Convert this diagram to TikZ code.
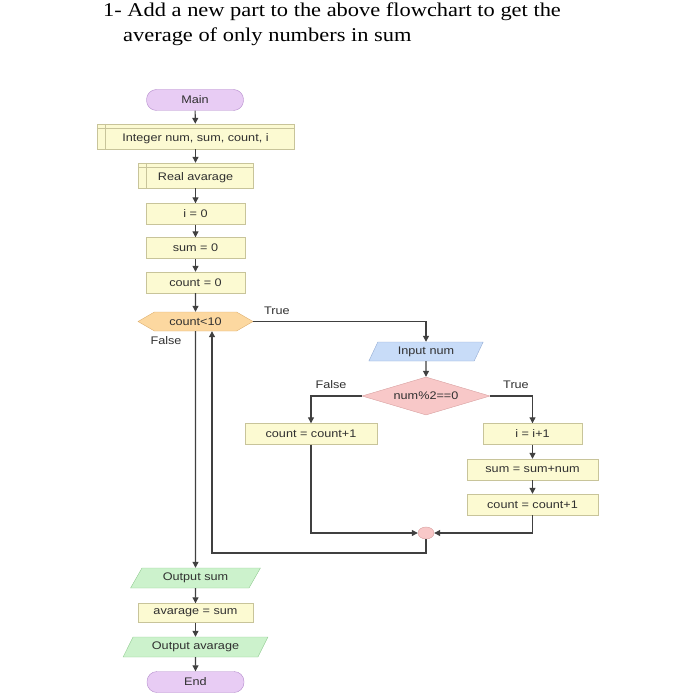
\documentclass[tikz,border=0pt]{standalone}
\usepackage{fontspec}
\setmainfont[FakeStretch=1.15]{Liberation Serif}
\newfontfamily\fgfont[FakeStretch=1.15]{Liberation Sans}
\usetikzlibrary{shapes.geometric,shapes.misc,shapes.symbols,arrows.meta}
\definecolor{boxfill}{HTML}{FCFAD2}
\definecolor{boxline}{HTML}{C8C49A}
\definecolor{termfill}{HTML}{E8CCF4}
\definecolor{termline}{HTML}{B48CCC}
\definecolor{condfill}{HTML}{FCD8A0}
\definecolor{condline}{HTML}{DEB070}
\definecolor{infill}{HTML}{C8DCF8}
\definecolor{inline}{HTML}{94ACD4}
\definecolor{decfill}{HTML}{F8C8C8}
\definecolor{decline}{HTML}{D8A0A0}
\definecolor{outfill}{HTML}{CCF2CC}
\definecolor{outline}{HTML}{94CC94}
\definecolor{wire}{HTML}{404040}
\definecolor{txt}{HTML}{303030}
\tikzset{
  fg/.style={font=\fgfont\fontsize{11}{13}\selectfont, text=txt},
  terminal/.style={fg, draw=termline, fill=termfill, rounded corners=10pt, minimum width=97pt, minimum height=21pt, inner sep=0pt},
  procbox/.style={fg, draw=boxline, fill=boxfill, minimum height=21pt, inner sep=0pt},
  declbox/.style={procbox, minimum height=25pt, text height=13pt, text depth=2.5pt},
  declline/.style={draw=boxline},
  condhex/.style={fg, shape=signal, signal to=west and east, signal pointer angle=60, draw=condline, fill=condfill, minimum width=115pt, minimum height=19pt, inner sep=0pt},
  inpar/.style={fg, trapezium, trapezium left angle=62, trapezium right angle=118, trapezium stretches=true, draw=inline, fill=infill, minimum width=115pt, minimum height=19pt, inner sep=0pt},
  outpar/.style={fg, trapezium, trapezium left angle=55, trapezium right angle=125, trapezium stretches=true, draw=outline, fill=outfill, minimum height=20pt, inner sep=0pt},
  decision/.style={fg, diamond, aspect=3.4, draw=decline, fill=decfill, minimum width=128pt, minimum height=38pt, inner sep=0pt},
  junction/.style={ellipse, draw=decline, fill=decfill, minimum width=16pt, minimum height=12pt, inner sep=0pt},
  lbl/.style={fg},
  arr/.style={draw=wire, line width=1.1pt, -{Triangle[length=6pt,width=6pt]}},
  wireline/.style={draw=wire, line width=1.1pt},
}
\begin{document}
\begin{tikzpicture}[x=1pt,y=-1pt]
\useasboundingbox (0,0) rectangle (696,700);
% title
\node[anchor=base west, inner sep=0pt, font=\fontsize{19.5}{22}\selectfont] (t1) at (103,17) {1- Add a new part to the above flowchart to get the};
\node[anchor=base west, inner sep=0pt, font=\fontsize{19.5}{22}\selectfont] (t2) at (123,42) {average of only numbers in sum};
% main column
\node[terminal] (main) at (195,100) {Main};
\node[declbox, minimum width=197pt] (decl1) at (195.5,136.5) {Integer num, sum, count, i};
\node[declbox, minimum width=115pt] (decl2) at (195.5,175.5) {Real avarage};
\node[procbox, minimum width=99pt] (i0) at (195.5,214) {i = 0};
\node[procbox, minimum width=99pt] (s0) at (195.5,248) {sum = 0};
\node[procbox, minimum width=99pt] (c0) at (195.5,282.5) {count = 0};
\node[condhex] (cond) at (195.5,321.5) {count<10};
\node[lbl] (ltrue) at (277,311) {True};
\node[lbl] (lfalse) at (166,340.5) {False};
% loop body
\node[inpar] (inp) at (426,351.5) {Input num};
\node[decision] (dec) at (426,396) {num\%2==0};
\node[lbl] (dfalse) at (331,385) {False};
\node[lbl] (dtrue) at (516,385) {True};
\node[procbox, minimum width=132pt] (cL) at (311,434) {count = count+1};
\node[procbox, minimum width=99pt] (iinc) at (532.5,434) {i = i+1};
\node[procbox, minimum width=131pt] (sadd) at (532.5,469.5) {sum = sum+num};
\node[procbox, minimum width=131pt] (cR) at (532.5,504.5) {count = count+1};
\node[junction] (join) at (426,533) {};
% output column
\node[outpar, minimum width=130pt] (osum) at (195.5,578) {Output sum};
\node[procbox, minimum width=115pt, minimum height=19pt] (avg) at (195.5,613) {avarage = sum};
\node[outpar, minimum width=145pt] (oavg) at (195.5,647) {Output avarage};
\node[terminal] (endn) at (195.5,682) {End};
% declaration inner lines
\draw[declline] ([xshift=8pt]decl1.north west) -- ([xshift=8pt]decl1.south west);
\draw[declline] ([yshift=-4pt]decl1.north west) -- ([yshift=-4pt]decl1.north east);
\draw[declline] ([xshift=8pt]decl2.north west) -- ([xshift=8pt]decl2.south west);
\draw[declline] ([yshift=-4pt]decl2.north west) -- ([yshift=-4pt]decl2.north east);
% connectors main column
\draw[arr] (main) -- (decl1);
\draw[arr] (decl1) -- (decl2);
\draw[arr] (decl2) -- (i0);
\draw[arr] (i0) -- (s0);
\draw[arr] (s0) -- (c0);
\draw[arr] (c0) -- (cond);
\draw[arr] (cond.east) -| (inp.north);
\draw[arr] (inp) -- (dec);
\draw[arr] (dec.west) -| (cL.north);
\draw[arr] (dec.east) -| (iinc.north);
\draw[arr] (iinc) -- (sadd);
\draw[arr] (sadd) -- (cR);
\draw[arr] (cL.south) |- (join.west);
\draw[arr] (cR.south) |- (join.east);
\coordinate (back) at (212,553);
\draw[arr] (join.south) |- (back) -- (back |- cond.south);
\draw[arr] (cond.south) -- (osum.north);
\draw[arr] (osum) -- (avg);
\draw[arr] (avg) -- (oavg);
\draw[arr] (oavg) -- (endn);
\end{tikzpicture}
\end{document}
